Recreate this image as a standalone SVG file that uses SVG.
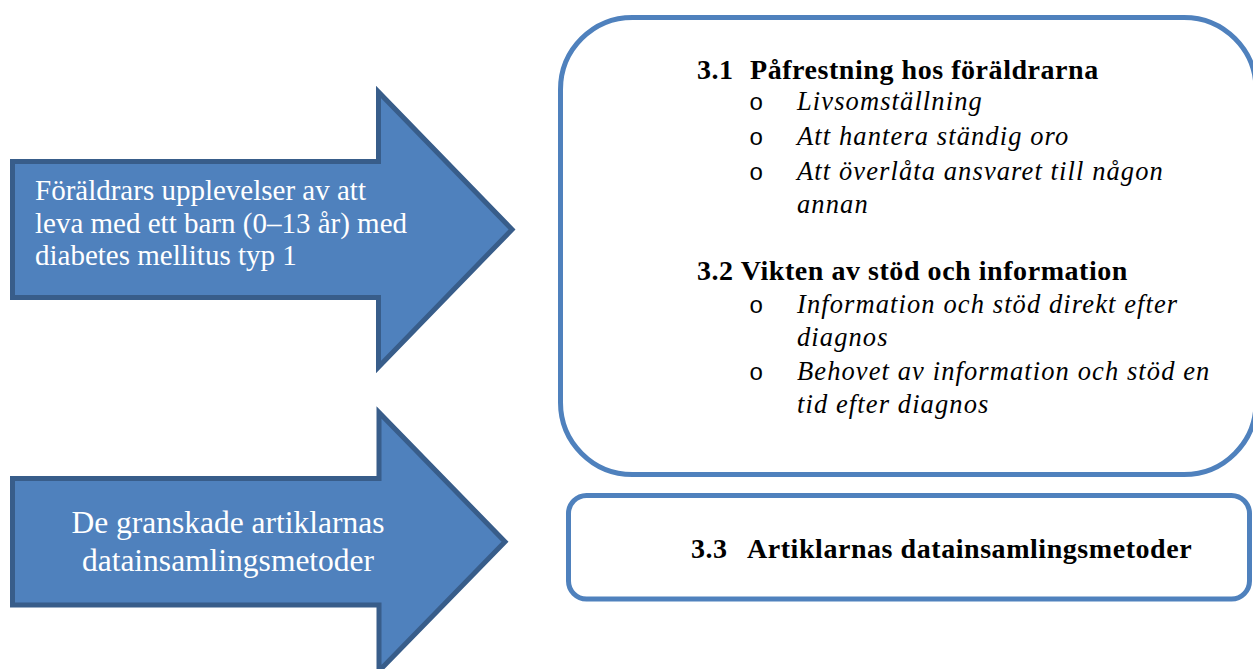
<svg xmlns="http://www.w3.org/2000/svg" width="1253" height="669" viewBox="0 0 1253 669">
<style>
.arrow{fill:#4F81BD;stroke:#385D8A;stroke-width:5;stroke-linejoin:miter}
.box{fill:#FFFFFF;stroke:#4F81BD;stroke-width:5}
.wt{font-family:"Liberation Serif","Times New Roman",serif;fill:#FFFFFF;font-size:29px}
.wt2{font-family:"Liberation Serif","Times New Roman",serif;fill:#FFFFFF;font-size:31.5px;text-anchor:middle}
.hd{font-family:"Liberation Serif","Times New Roman",serif;fill:#000000;font-size:28px;font-weight:bold;letter-spacing:0.55px}
.it{font-family:"Liberation Serif","Times New Roman",serif;fill:#000000;font-size:26.5px;font-style:italic;letter-spacing:1.1px}
.bl{font-family:"Liberation Mono","Courier New",monospace;fill:#000000;font-size:24px}
</style>
<rect width="1253" height="669" fill="#FFFFFF"/>
<g id="arrow1">
<polygon class="arrow" points="12.5,161.5 378.5,161.5 378.5,92 512,229.5 378.5,367 378.5,297.5 12.5,297.5"/>
<text class="wt" x="35" y="200">F&#246;r&#228;ldrars upplevelser av att</text>
<text class="wt" x="35" y="233">leva med ett barn (0&#8211;13 &#229;r) med</text>
<text class="wt" x="35" y="265">diabetes mellitus typ 1</text>
</g>
<g id="arrow2">
<polygon class="arrow" points="12.5,478.5 379,478.5 379,412.5 505,541.7 379,671 379,605 12.5,605"/>
<text class="wt2" x="228" y="533">De granskade artiklarnas</text>
<text class="wt2" x="228" y="571">datainsamlingsmetoder</text>
</g>
<g id="box1">
<rect class="box" x="560.5" y="17.5" width="695.5" height="457" rx="72" ry="72"/>
<text class="hd" x="697" y="79">3.1</text>
<text class="hd" x="750" y="79">P&#229;frestning hos f&#246;r&#228;ldrarna</text>
<text class="bl" x="749" y="110">o</text>
<text class="it" x="797" y="110">Livsomst&#228;llning</text>
<text class="bl" x="749" y="145">o</text>
<text class="it" x="797" y="145">Att hantera st&#228;ndig oro</text>
<text class="bl" x="749" y="180">o</text>
<text class="it" x="797" y="180">Att &#246;verl&#229;ta ansvaret till n&#229;gon</text>
<text class="it" x="797" y="213">annan</text>
<text class="hd" x="697" y="280">3.2 Vikten av st&#246;d och information</text>
<text class="bl" x="749" y="313">o</text>
<text class="it" x="797" y="313">Information och st&#246;d direkt efter</text>
<text class="it" x="797" y="346">diagnos</text>
<text class="bl" x="749" y="380">o</text>
<text class="it" x="797" y="380">Behovet av information och st&#246;d en</text>
<text class="it" x="797" y="413">tid efter diagnos</text>
</g>
<g id="box2">
<rect class="box" x="568.5" y="495.5" width="681" height="103.5" rx="18" ry="18"/>
<text class="hd" x="691" y="558">3.3</text>
<text class="hd" x="747" y="558">Artiklarnas datainsamlingsmetoder</text>
</g>
</svg>
